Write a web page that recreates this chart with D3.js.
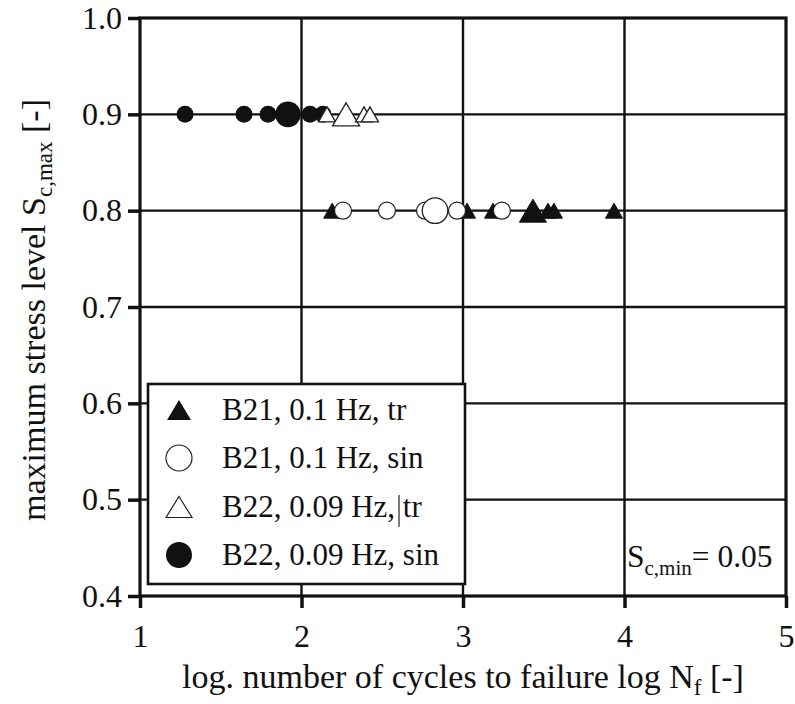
<!DOCTYPE html>
<html>
<head>
<meta charset="utf-8">
<script src="https://cdn.jsdelivr.net/npm/d3@7"></script>
<style>
  html, body { margin: 0; padding: 0; background: #fff; }
  svg { display: block; }
  text { font-family: "Liberation Serif", "Times New Roman", serif; fill: #111; }
</style>
</head>
<body>
<svg id="chart" width="795" height="704"></svg>
<script>
// ---------- data ----------
const xTicks = [1, 2, 3, 4, 5];
const yTicks = [0.4, 0.5, 0.6, 0.7, 0.8, 0.9, 1.0];

// B21, 0.1 Hz, triangular loading (filled triangles) at S = 0.8
const b21trLogN = [2.19, 3.025, 3.186, 3.433, 3.526, 3.563, 3.935];
const b21trS    = [0.8, 0.8, 0.8, 0.8, 0.8, 0.8, 0.8];
const b21trN    = [1, 1, 1, 2, 1, 1, 1];   // overlapping specimens (large marker = 2)

// B21, 0.1 Hz, sinusoidal loading (open circles) at S = 0.8
const b21sinLogN = [2.257, 2.529, 2.765, 2.827, 2.963, 3.241];
const b21sinS    = [0.8, 0.8, 0.8, 0.8, 0.8, 0.8];
const b21sinN    = [1, 1, 1, 2, 1, 1];

// B22, 0.09 Hz, triangular loading (open triangles) at S = 0.9
const b22trLogN = [2.158, 2.276, 2.387, 2.424];
const b22trS    = [0.9, 0.9, 0.9, 0.9];
const b22trN    = [1, 2, 1, 1];

// B22, 0.09 Hz, sinusoidal loading (filled circles) at S = 0.9
const b22sinLogN = [1.279, 1.644, 1.793, 1.916, 2.053, 2.133];
const b22sinS    = [0.9, 0.9, 0.9, 0.9, 0.9, 0.9];
const b22sinN    = [1, 1, 1, 2, 1, 1];

const legendLabels = ["B21, 0.1 Hz, tr", "B21, 0.1 Hz, sin", "B22, 0.09 Hz, tr", "B22, 0.09 Hz, sin"];

// ---------- layout ----------
const svg = d3.select("#chart");
const L = 140, R = 786, T = 18, B = 596;
const x = d3.scaleLinear().domain([1, 5]).range([L, R]);
const y = d3.scaleLinear().domain([0.4, 1.0]).range([B, T]);

// grid
const grid = svg.append("g").attr("stroke", "#111").attr("stroke-width", 2.4);
grid.selectAll("line.v").data(xTicks.slice(1, -1)).enter().append("line")
  .attr("x1", d => x(d)).attr("x2", d => x(d)).attr("y1", T).attr("y2", B);
grid.selectAll("line.h").data(yTicks.slice(1, -1)).enter().append("line")
  .attr("x1", L).attr("x2", R).attr("y1", d => y(d)).attr("y2", d => y(d));

// axes
const fontTick = 32;
const yAxis = svg.append("g").attr("transform", `translate(${L},0)`)
  .call(d3.axisLeft(y).tickValues(yTicks).tickFormat(d3.format(".1f")).tickSize(12).tickPadding(6));
yAxis.select(".domain").remove();
yAxis.selectAll(".tick line").attr("stroke", "#111").attr("stroke-width", 3.5);
yAxis.selectAll(".tick text").attr("font-size", fontTick).attr("font-family", "Liberation Serif, serif").attr("fill", "#111");

const xAxis = svg.append("g").attr("transform", `translate(0,${B})`)
  .call(d3.axisBottom(x).tickValues(xTicks).tickFormat(d3.format("d")).tickSize(12));
xAxis.select(".domain").remove();
xAxis.selectAll(".tick line").attr("stroke", "#111").attr("stroke-width", 3.5);
xAxis.selectAll(".tick text").attr("font-size", fontTick).attr("font-family", "Liberation Serif, serif")
  .attr("fill", "#111").attr("y", 51).attr("dy", 0);

// frame
svg.append("rect").attr("x", L).attr("y", T).attr("width", R - L).attr("height", B - T)
  .attr("fill", "none").attr("stroke", "#111").attr("stroke-width", 3.2);

// ---------- markers ----------
function triPath(w, h) {
  return `M0,${-h/2}L${w/2},${h/2}L${-w/2},${h/2}Z`;
}
const triSmall = [17, 15], triBig = [27, 23];
const rSmall = 8.5, rBig = 12.8;

function zipSeries(xs, ys, ns) { return xs.map((v, i) => ({ logN: v, S: ys[i], n: ns[i] })); }

const marks = svg.append("g");

// filled triangles (B21 tr)
marks.append("g").selectAll("path").data(zipSeries(b21trLogN, b21trS, b21trN)).enter().append("path")
  .attr("transform", d => `translate(${x(d.logN)},${y(d.S)})`)
  .attr("d", d => d.n > 1 ? triPath(...triBig) : triPath(...triSmall))
  .attr("fill", "#111").attr("stroke", "#111").attr("stroke-width", 1);

// open circles (B21 sin)
marks.append("g").selectAll("circle").data(zipSeries(b21sinLogN, b21sinS, b21sinN)).enter().append("circle")
  .attr("cx", d => x(d.logN)).attr("cy", d => y(d.S))
  .attr("r", d => d.n > 1 ? rBig : rSmall)
  .attr("fill", "#fff").attr("stroke", "#222").attr("stroke-width", 1.3);

// filled circles (B22 sin)
marks.append("g").selectAll("circle").data(zipSeries(b22sinLogN, b22sinS, b22sinN)).enter().append("circle")
  .attr("cx", d => x(d.logN)).attr("cy", d => y(d.S))
  .attr("r", d => d.n > 1 ? rBig : rSmall)
  .attr("fill", "#111");

// open triangles (B22 tr)
marks.append("g").selectAll("path").data(zipSeries(b22trLogN, b22trS, b22trN)).enter().append("path")
  .attr("transform", d => `translate(${x(d.logN)},${y(d.S)})`)
  .attr("d", d => d.n > 1 ? triPath(...triBig) : triPath(...triSmall))
  .attr("fill", "#fff").attr("stroke", "#222").attr("stroke-width", 1.3);

// ---------- legend ----------
const lg = svg.append("g");
lg.append("rect").attr("x", 148).attr("y", 384).attr("width", 317).attr("height", 200)
  .attr("fill", "#fff").attr("stroke", "#111").attr("stroke-width", 2.6);
const rowY = [410, 458, 507, 555];
const symX = 179;
lg.append("path").attr("transform", `translate(${symX},${rowY[0]})`).attr("d", triPath(24, 20)).attr("fill", "#111");
lg.append("circle").attr("cx", symX).attr("cy", rowY[1]).attr("r", 13).attr("fill", "#fff").attr("stroke", "#222").attr("stroke-width", 1.2);
lg.append("path").attr("transform", `translate(${symX},${rowY[2]})`).attr("d", triPath(26, 21)).attr("fill", "#fff").attr("stroke", "#222").attr("stroke-width", 1.2);
lg.append("circle").attr("cx", symX).attr("cy", rowY[3]).attr("r", 13).attr("fill", "#111");
lg.selectAll("text").data(legendLabels).enter().append("text")
  .attr("x", 222).attr("y", (d, i) => rowY[i] + 10)
  .attr("font-size", 31).text(d => d);
// stray cursor bar in the original legend
lg.append("line").attr("x1", 399).attr("x2", 399).attr("y1", 495).attr("y2", 527)
  .attr("stroke", "#333").attr("stroke-width", 1.3);

// ---------- annotation ----------
const ann = svg.append("text").attr("x", 627).attr("y", 567).attr("font-size", 31.5);
ann.append("tspan").text("S");
ann.append("tspan").attr("font-size", 21).attr("dy", 8).text("c,min");
ann.append("tspan").attr("dy", -8).text("= 0.05");

// ---------- axis titles ----------
const xt = svg.append("text").attr("x", 463).attr("y", 688).attr("text-anchor", "middle").attr("font-size", 34);
xt.append("tspan").text("log. number of cycles to failure log N");
xt.append("tspan").attr("font-size", 23).attr("dy", 7).text("f");
xt.append("tspan").attr("dy", -7).text(" [-]");

const yt = svg.append("text").attr("transform", "translate(45,310) rotate(-90)")
  .attr("text-anchor", "middle").attr("font-size", 34);
yt.append("tspan").text("maximum stress level S");
yt.append("tspan").attr("font-size", 23).attr("dy", 7).text("c,max");
yt.append("tspan").attr("dy", -7).text(" [-]");
</script>
</body>
</html>
